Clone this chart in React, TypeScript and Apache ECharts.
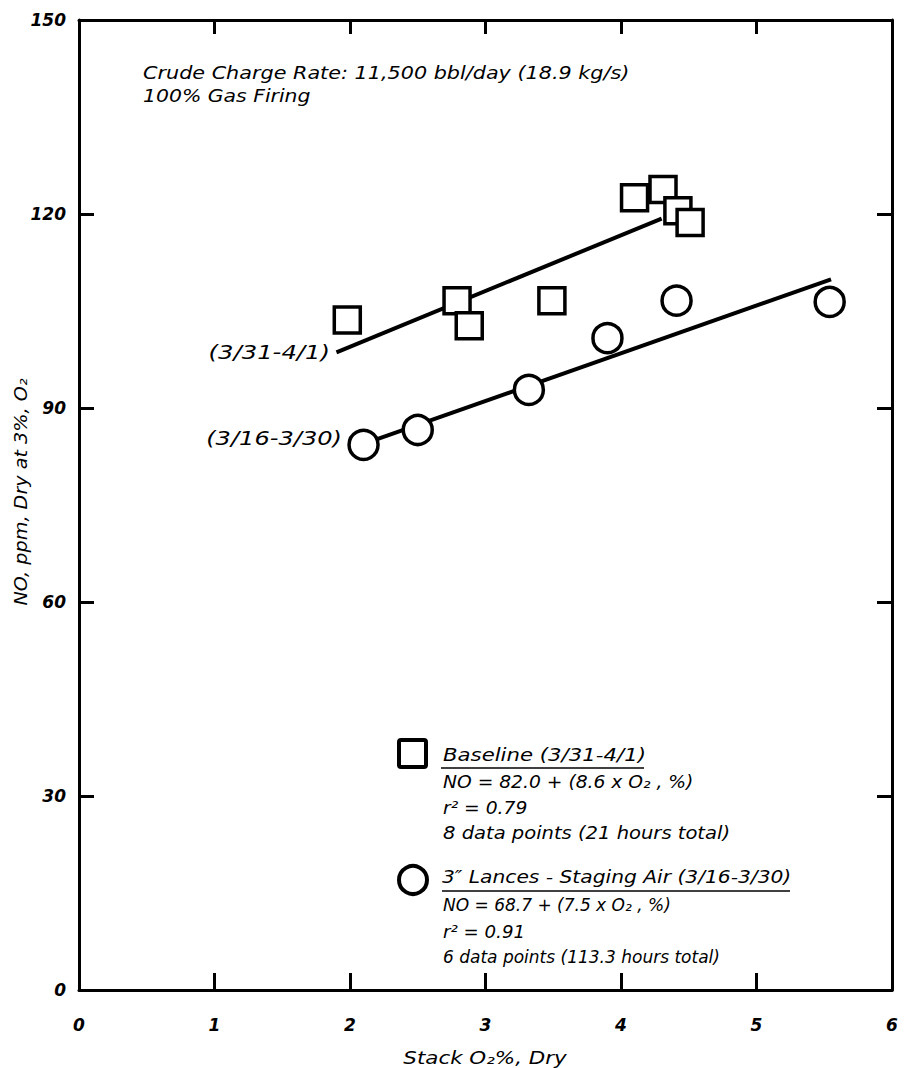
import React, { useEffect, useRef } from "react";
import * as echarts from "echarts";

const xTickValues = [0, 1, 2, 3, 4, 5, 6];
const yTickValues = [0, 30, 60, 90, 120, 150];

const baselineO2 = [1.98, 2.79, 2.88, 3.49, 4.1, 4.31, 4.42, 4.51];
const baselineNO = [103.6, 106.6, 102.7, 106.6, 122.5, 123.8, 120.5, 118.7];

const stagingO2 = [2.1, 2.5, 3.32, 3.9, 4.41, 5.54];
const stagingNO = [84.3, 86.6, 92.8, 100.8, 106.6, 106.4];

const baselineFitO2 = [1.9, 4.3];
const baselineFitNO = [98.6, 119.3];
const stagingFitO2 = [2.08, 5.55];
const stagingFitNO = [84.3, 109.9];

const headerLines = ["Crude Charge Rate: 11,500 bbl/day (18.9 kg/s)", "100% Gas Firing"];
const baselineLegend = ["Baseline (3/31-4/1)", "NO = 82.0 + (8.6 x O₂ , %)", "r² = 0.79", "8 data points (21 hours total)"];
const stagingLegend = ["3\u2033 Lances - Staging Air (3/16-3/30)", "NO = 68.7 + (7.5 x O₂ , %)", "r² = 0.91", "6 data points (113.3 hours total)"];
const fitLabels = ["(3/31-4/1)", "(3/16-3/30)"];
const xName = "Stack O₂%, Dry";
const yName = "NO, ppm, Dry at 3%, O₂";

const FONT = "DejaVu Sans";

export default function App() {
  const ref = useRef<HTMLDivElement>(null);
  useEffect(() => {
    document.body.style.margin = "0";
    const chart = echarts.init(ref.current!, null, { renderer: "svg" });
    const zip = (a: number[], b: number[]) => a.map((v, i) => [v, b[i]]);
    const axisLine = { show: true, onZero: false, lineStyle: { color: "#000", width: 3 } };
    const tick = { show: true, inside: true, length: 17, lineStyle: { color: "#000", width: 3 } };
    const label = {
      color: "#000",
      fontFamily: FONT,
      fontStyle: "italic" as const,
      fontWeight: "bold" as const,
      fontSize: 17,
    };
    const txt = (x: number, y: number, text: string, size: number, sx: number, extra: any = {}) => ({
      type: "text",
      x,
      y,
      scaleX: sx,
      style: {
        text,
        fill: "#000",
        font: `italic ${size}px "${FONT}"`,
        textVerticalAlign: "middle",
        ...extra,
      },
    });
    const option: any = {
      animation: false,
      grid: { left: 79, right: 12, top: 20, bottom: 78, containLabel: false },
      xAxis: [
        {
          type: "value",
          min: 0,
          max: 6,
          interval: 1,
          position: "bottom",
          axisLine,
          axisTick: tick,
          splitLine: { show: false },
          axisLabel: { ...label, margin: 26, formatter: (v: number) => (xTickValues.includes(v) ? String(v) : "") },
        },
        {
          type: "value",
          min: 0,
          max: 6,
          interval: 1,
          position: "top",
          axisLine,
          axisTick: { ...tick, length: 14 },
          splitLine: { show: false },
          axisLabel: { show: false },
        },
      ],
      yAxis: [
        {
          type: "value",
          min: 0,
          max: 150,
          interval: 30,
          position: "left",
          axisLine,
          axisTick: { ...tick, length: 15 },
          splitLine: { show: false },
          axisLabel: { ...label, margin: 13, formatter: (v: number) => (yTickValues.includes(v) ? String(v) : "") },
        },
        {
          type: "value",
          min: 0,
          max: 150,
          interval: 30,
          position: "right",
          axisLine,
          axisTick: { ...tick, length: 15 },
          splitLine: { show: false },
          axisLabel: { show: false },
        },
      ],
      series: [
        {
          type: "line",
          data: zip(baselineFitO2, baselineFitNO),
          symbol: "none",
          lineStyle: { color: "#000", width: 4 },
          z: 2,
        },
        {
          type: "line",
          data: zip(stagingFitO2, stagingFitNO),
          symbol: "none",
          lineStyle: { color: "#000", width: 4 },
          z: 2,
        },
        {
          type: "scatter",
          data: zip(baselineO2, baselineNO),
          symbol: "rect",
          symbolSize: 26,
          itemStyle: { color: "#fff", borderColor: "#000", borderWidth: 3.5, opacity: 1 },
          z: 3,
        },
        {
          type: "scatter",
          data: zip(stagingO2, stagingNO),
          symbol: "circle",
          symbolSize: 29,
          itemStyle: { color: "#fff", borderColor: "#000", borderWidth: 3.5, opacity: 1 },
          z: 3,
        },
        {
          type: "scatter",
          xAxisIndex: 1,
          yAxisIndex: 1,
          data: [],
        },
      ],
      graphic: [
        txt(143, 73, headerLines[0], 17, 1.22),
        txt(143, 96, headerLines[1], 17, 1.2),
        txt(330, 352, fitLabels[0], 19, 1.28, { textAlign: "right" }),
        txt(342, 438, fitLabels[1], 19, 1.27, { textAlign: "right" }),
        {
          type: "text",
          x: 21,
          y: 492,
          rotation: Math.PI / 2,
          scaleX: 1.13,
          style: { text: yName, fill: "#000", font: `italic 17px "${FONT}"`, textAlign: "center", textVerticalAlign: "middle" },
        },
        txt(485, 1058, xName, 17, 1.26, { textAlign: "center" }),
        {
          type: "rect",
          shape: { x: 399, y: 740, width: 27, height: 27, r: 2 },
          style: { fill: "#fff", stroke: "#000", lineWidth: 4 },
        },
        txt(443, 755, baselineLegend[0], 17, 1.25),
        { type: "line", shape: { x1: 441, y1: 768, x2: 644, y2: 768 }, style: { stroke: "#000", lineWidth: 1.5 } },
        txt(443, 782, baselineLegend[1], 17, 1.1),
        txt(443, 808, baselineLegend[2], 17, 1.1),
        txt(443, 833, baselineLegend[3], 17, 1.15),
        {
          type: "circle",
          shape: { cx: 413, cy: 880, r: 14 },
          style: { fill: "#fff", stroke: "#000", lineWidth: 4 },
        },
        txt(442, 877, stagingLegend[0], 17, 1.19),
        { type: "line", shape: { x1: 442, y1: 891, x2: 790, y2: 891 }, style: { stroke: "#000", lineWidth: 1.5 } },
        txt(443, 905, stagingLegend[1], 17, 1.0),
        txt(443, 932, stagingLegend[2], 17, 1.07),
        txt(443, 957, stagingLegend[3], 17, 1.0),
      ],
    };
    chart.setOption(option);
    return () => chart.dispose();
  }, []);
  return <div ref={ref} style={{ width: 904, height: 1068 }} />;
}
